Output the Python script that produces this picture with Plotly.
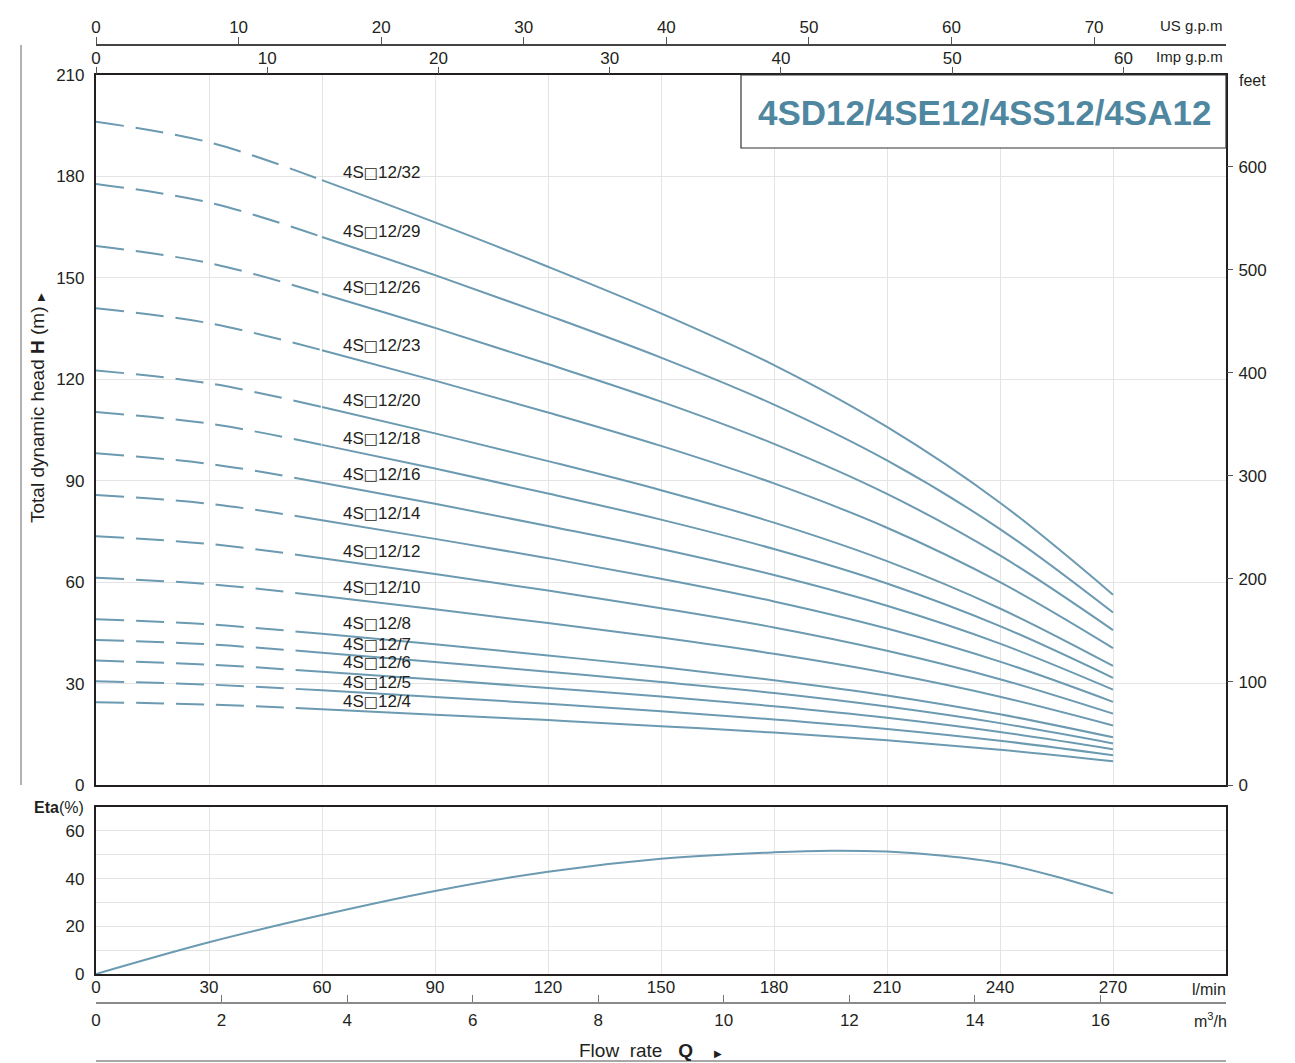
import plotly.graph_objects as go

W, H = 1295, 1063      # browser window
OFF = 8                # default page (body) margin of the html page
FW, FH = W - OFF, H - OFF

# ---------------- data ----------------
flow_lpm = [0, 30, 60, 90, 120, 150, 180, 210, 240, 270]

models = ["32", "29", "26", "23", "20", "18", "16", "14", "12", "10", "8", "7", "6", "5", "4"]

head_32 = [196.2, 190.1, 178.9, 166.4, 153.3, 139.5, 124.2, 105.9, 83.5, 56.3]
head_29 = [177.8, 172.3, 162.1, 150.8, 138.9, 126.4, 112.5, 96.0, 75.7, 51.0]
head_26 = [159.4, 154.4, 145.3, 135.2, 124.5, 113.4, 100.9, 86.1, 67.9, 45.8]
head_23 = [141.0, 136.6, 128.6, 119.6, 110.2, 100.3, 89.2, 76.1, 60.0, 40.5]
head_20 = [122.6, 118.8, 111.8, 104.0, 95.8, 87.2, 77.6, 66.2, 52.2, 35.2]
head_18 = [110.3, 106.9, 100.6, 93.6, 86.2, 78.5, 69.8, 59.6, 47.0, 31.7]
head_16 = [98.1, 95.0, 89.4, 83.2, 76.6, 69.8, 62.1, 53.0, 41.8, 28.2]
head_14 = [85.8, 83.2, 78.3, 72.8, 67.1, 61.0, 54.3, 46.3, 36.5, 24.6]
head_12 = [73.6, 71.3, 67.1, 62.4, 57.5, 52.3, 46.6, 39.7, 31.3, 21.1]
head_10 = [61.3, 59.4, 55.9, 52.0, 47.9, 43.6, 38.8, 33.1, 26.1, 17.6]
head_8 = [49.0, 47.5, 44.7, 41.6, 38.3, 34.9, 31.0, 26.5, 20.9, 14.1]
head_7 = [42.9, 41.6, 39.1, 36.4, 33.5, 30.5, 27.2, 23.2, 18.3, 12.3]
head_6 = [36.8, 35.6, 33.5, 31.2, 28.7, 26.2, 23.3, 19.9, 15.7, 10.6]
head_5 = [30.7, 29.7, 28.0, 26.0, 24.0, 21.8, 19.4, 16.6, 13.1, 8.8]
head_4 = [24.5, 23.8, 22.4, 20.8, 19.2, 17.4, 15.5, 13.2, 10.4, 7.0]

heads = [head_32, head_29, head_26, head_23, head_20, head_18, head_16, head_14,
         head_12, head_10, head_8, head_7, head_6, head_5, head_4]

label_y = [181.3, 163.6, 147.1, 129.9, 113.6, 102.4, 91.7, 80.4, 69.2, 58.3,
           47.9, 41.7, 36.1, 30.2, 24.8]

eta_flow = [0, 30, 60, 90, 120, 150, 180, 195, 210, 225, 240, 255, 270]
eta_vals = [0, 13.3, 24.7, 34.8, 42.9, 48.3, 51.0, 51.7, 51.3, 49.6, 46.5, 40.8, 33.8]

lpm_ticks = [0, 30, 60, 90, 120, 150, 180, 210, 240, 270]
m3h_ticks = [0, 2, 4, 6, 8, 10, 12, 14, 16]
usgpm_ticks = [0, 10, 20, 30, 40, 50, 60, 70]
impgpm_ticks = [0, 10, 20, 30, 40, 50, 60]
head_ticks = [0, 30, 60, 90, 120, 150, 180, 210]
feet_ticks = [0, 100, 200, 300, 400, 500, 600]
eta_grid = [0, 10, 20, 30, 40, 50, 60, 70]
eta_labels = ["0", " ", "20", " ", "40", " ", "60", " "]

# ---------------- style ----------------
CURVE = "#6b9ab1"
TITLE_C = "#4f87a1"
TXT = "#231f20"
GRID = "#e4e4e4"
SANS = "Liberation Sans, Arial, sans-serif"

QMAX = 300.0
HMAX = 210.0


def px(x):
    return (x - OFF) / FW


def py(y):
    return 1 - (y - OFF) / FH


XDOM = [px(96), px(1226)]
MAIN_DOM = [py(785), py(75)]
ETA_DOM = [py(974), py(807)]

fig = go.Figure()

for name, hv in zip(models, heads):
    fig.add_trace(go.Scatter(x=flow_lpm[:3], y=hv[:3], mode="lines",
                             line=dict(color=CURVE, width=2, dash="28px,12px", shape="spline"),
                             xaxis="x", yaxis="y", showlegend=False, hoverinfo="skip"))
    fig.add_trace(go.Scatter(x=flow_lpm[2:], y=hv[2:], mode="lines",
                             line=dict(color=CURVE, width=2, shape="spline", smoothing=1),
                             xaxis="x", yaxis="y", showlegend=False, name="4S□12/" + name))

fig.add_trace(go.Scatter(x=eta_flow, y=eta_vals, mode="lines",
                         line=dict(color=CURVE, width=2, shape="spline", smoothing=1),
                         xaxis="x4", yaxis="y3", showlegend=False, name="Eta"))

# invisible helper traces so that secondary axes are drawn
for xa, ya in [("x2", "y"), ("x3", "y"), ("x", "y2"), ("x5", "y3")]:
    fig.add_trace(go.Scatter(x=[0], y=[0], mode="markers", marker=dict(opacity=0),
                             xaxis=xa, yaxis=ya, showlegend=False, hoverinfo="skip"))

tickf = dict(family=SANS, size=17, color=TXT)

BOX = "<span style='font-family:DejaVu Sans;font-size:15px'>□</span>"

annotations = []
for name, ly in zip(models, label_y):
    annotations.append(dict(x=65, y=ly, xref="x", yref="y", text="4S" + BOX + "12/" + name,
                            showarrow=False, xanchor="left", yanchor="middle",
                            font=dict(family=SANS, size=17, color=TXT)))

annotations += [
    dict(x=px(984), y=py(112), xref="paper", yref="paper",
         text="<b>4SD12/4SE12/4SS12/4SA12</b>", showarrow=False,
         xanchor="center", yanchor="middle",
         font=dict(family=SANS, size=35, color=TITLE_C)),
    dict(x=px(1237), y=py(80), xref="paper", yref="paper", text="feet",
         showarrow=False, xanchor="left", yanchor="middle", font=dict(family=SANS, size=16, color=TXT)),
    dict(x=px(1225), y=py(25), xref="paper", yref="paper", text="US g.p.m",
         showarrow=False, xanchor="right", yanchor="middle", font=dict(family=SANS, size=15, color=TXT)),
    dict(x=px(1225), y=py(56), xref="paper", yref="paper", text="Imp g.p.m",
         showarrow=False, xanchor="right", yanchor="middle", font=dict(family=SANS, size=15, color=TXT)),
    dict(x=px(1228), y=py(989), xref="paper", yref="paper", text="l/min",
         showarrow=False, xanchor="right", yanchor="middle", font=dict(family=SANS, size=16, color=TXT)),
    dict(x=px(1229), y=py(1020), xref="paper", yref="paper", text="m<sup>3</sup>/h",
         showarrow=False, xanchor="right", yanchor="middle", font=dict(family=SANS, size=16, color=TXT)),
    dict(x=px(86), y=py(807), xref="paper", yref="paper", text="<b>Eta</b>(%)",
         showarrow=False, xanchor="right", yanchor="middle", font=dict(family=SANS, size=16, color=TXT)),
    dict(x=px(650), y=py(1050), xref="paper", yref="paper",
         text="Flow\u00a0\u00a0rate\u00a0\u00a0\u00a0<b>Q</b>\u00a0\u00a0\u00a0\u00a0<span style='font-size:10px'>▶</span>",
         showarrow=False, xanchor="center", yanchor="middle", font=dict(family=SANS, size=19, color=TXT)),
    dict(x=px(38), y=py(408), xref="paper", yref="paper",
         text="Total dynamic head <b>H</b> (m) <span style='font-size:10px'>▶</span>",
         showarrow=False, textangle=-90, xanchor="center", yanchor="middle",
         font=dict(family=SANS, size=19, color=TXT)),
]

shapes = [
    # title box
    dict(type="rect", xref="paper", yref="paper", x0=px(741), x1=px(1226), y0=py(148), y1=py(75),
         line=dict(color="#333333", width=1.2), fillcolor="white", layer="above"),
    # left vertical rule
    dict(type="line", xref="paper", yref="paper", x0=px(21), x1=px(21), y0=py(45), y1=py(785),
         line=dict(color="#9a9a9a", width=1.5)),
    # bottom rule
    dict(type="line", xref="paper", yref="paper", x0=px(96), x1=px(1226), y0=py(1061), y1=py(1061),
         line=dict(color="#8a8a8a", width=1.5)),
]

axis_common = dict(zeroline=False, tickfont=tickf, fixedrange=True, automargin=False)

fig.update_layout(
    template="none",
    width=FW, height=FH,
    margin=dict(l=0, r=0, t=0, b=0, pad=0, autoexpand=False),
    paper_bgcolor="white", plot_bgcolor="white",
    showlegend=False,
    annotations=annotations,
    shapes=shapes,
    xaxis=dict(domain=XDOM, range=[0, QMAX], anchor="y", tickvals=lpm_ticks,
               showticklabels=False, ticks="", ticklen=0, showgrid=True, gridcolor=GRID, gridwidth=1,
               showline=True, mirror=True, linecolor="#231f20", linewidth=2.2, **axis_common),
    yaxis=dict(domain=MAIN_DOM, range=[0, HMAX], anchor="x", tickvals=head_ticks,
               ticks="", ticklen=0, showgrid=True, gridcolor=GRID, gridwidth=1, ticklabelstandoff=6,
               showline=True, mirror=True, linecolor="#231f20", linewidth=2.2, **axis_common),
    yaxis2=dict(overlaying="y", side="right", anchor="x", range=[0, HMAX * 3.28084],
                tickvals=feet_ticks, ticks="outside", ticklen=6, tickcolor="#555555",
                showgrid=False, showline=False, ticklabelstandoff=2, **axis_common),
    xaxis2=dict(overlaying="x", side="top", anchor="free", position=py(45),
                range=[0, QMAX / 3.78541], tickvals=usgpm_ticks, ticks="outside", ticklen=7,
                tickcolor="#555555", showgrid=False, showline=True, linecolor="#444444",
                linewidth=1.5, ticklabelstandoff=-3, **axis_common),
    xaxis3=dict(overlaying="x", side="top", anchor="y", range=[0, QMAX / 4.54609],
                tickvals=impgpm_ticks, ticks="outside", ticklen=7, tickcolor="#555555",
                showgrid=False, showline=False, ticklabelstandoff=-4, **axis_common),
    xaxis4=dict(domain=XDOM, range=[0, QMAX], anchor="y3", tickvals=lpm_ticks,
                ticks="", ticklen=0, showgrid=True, gridcolor=GRID, gridwidth=1, ticklabelstandoff=-4,
                showline=True, mirror=True, linecolor="#231f20", linewidth=2.2, **axis_common),
    yaxis3=dict(domain=ETA_DOM, range=[0, 70], anchor="x4", tickvals=eta_grid,
                ticktext=eta_labels, ticks="", ticklen=0,
                showgrid=True, gridcolor=GRID, gridwidth=1, ticklabelstandoff=6,
                showline=True, mirror=True, linecolor="#231f20", linewidth=2.2, **axis_common),
    xaxis5=dict(overlaying="x4", side="bottom", anchor="free", position=py(1003),
                range=[0, QMAX * 0.06], tickvals=m3h_ticks, ticks="inside", ticklen=7,
                tickcolor="#777777", showgrid=False, showline=True, linecolor="#8a8a8a",
                linewidth=1.5, ticklabelstandoff=2, **axis_common),
)

fig.write_html("out.html")
